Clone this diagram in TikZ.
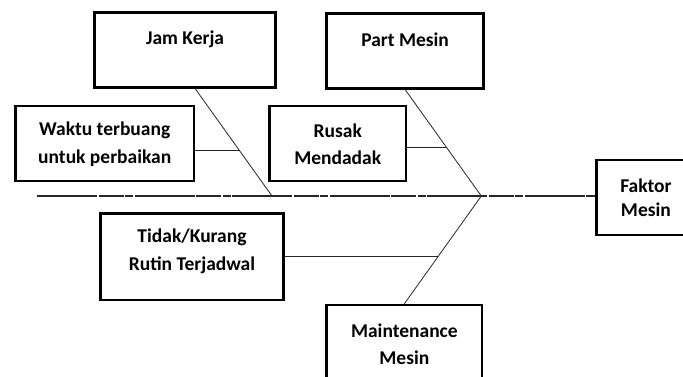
\documentclass[tikz,border=0pt]{standalone}
\usepackage{fontspec}
\setmainfont{Carlito}
\usetikzlibrary{calc}
\tikzset{
  cbox/.style={draw=black, line width=2.5pt, inner sep=0pt, fill=white},
  ctext/.style={align=center, inner sep=0pt, font=\fontsize{19.5}{27.5}\selectfont\bfseries},
  bone/.style={draw=black!85, line width=0.8pt},
  spine/.style={draw=black!85, line width=1.3pt, dash pattern=on 60pt off 1.5pt on 25pt off 1.5pt on 8pt off 1.5pt}
}
\begin{document}
\begin{tikzpicture}[x=1pt,y=-1pt]
\clip (0,0) rectangle (683,376);
\fill[white] (0,0) rectangle (683,376);
% boxes
\node[cbox, minimum width=181.2pt, minimum height=74.6pt] (jam) at (185.1,50) {};
\node[cbox, minimum width=156.8pt, minimum height=75pt] (part) at (405.1,50.8) {};
\node[cbox, minimum width=178.1pt, minimum height=75pt] (waktu) at (104.75,143.5) {};
\node[cbox, minimum width=136.3pt, minimum height=75pt] (rusak) at (337.75,143.5) {};
\node[cbox, minimum width=98.4pt, minimum height=75pt] (faktor) at (645.9,197.5) {};
\node[cbox, minimum width=183pt, minimum height=86.7pt] (tidak) at (192,256.6) {};
\node[cbox, minimum width=155.3pt, minimum height=78pt] (maint) at (404.35,344) {};
% texts
\node[ctext] (tjam) at (185.1,39) {Jam Kerja};
\node[ctext] (tpart) at (405.1,40) {Part Mesin};
\node[ctext] (twaktu) at (104.75,144) {Waktu terbuang\\untuk perbaikan};
\node[ctext] (trusak) at (337.75,144) {Rusak\\Mendadak};
\node[ctext, font=\fontsize{19.5}{24}\selectfont\bfseries] (tfaktor) at (645.9,197.5) {Faktor\\Mesin};
\node[ctext] (ttidak) at (192,251.5) {Tidak/Kurang\\Rutin Terjadwal};
\node[ctext] (tmaint) at (404.35,344) {Maintenance\\Mesin};
% spine
\coordinate (tail) at (37,196);
\coordinate (j1) at (272,196);
\coordinate (p1) at (481.3,196);
\draw[spine] (tail) -- (faktor.west |- tail);
% main bones
\coordinate (jtop) at ([xshift=10pt]jam.south);
\draw[bone] (jtop) -- (j1);
\draw[bone] (part.south) -- (p1);
\draw[bone] (maint.north) -- (p1);
% sub bones
\coordinate (w1) at ($(jtop)!0.579!(j1)$);
\draw[bone] (waktu.east |- w1) -- (w1);
\coordinate (r1) at ($(part.south)!0.548!(p1)$);
\draw[bone] (rusak.east |- r1) -- (r1);
\coordinate (t1) at ($(maint.north)!0.443!(p1)$);
\draw[bone] (tidak.east |- t1) -- (t1);
\end{tikzpicture}
\end{document}
